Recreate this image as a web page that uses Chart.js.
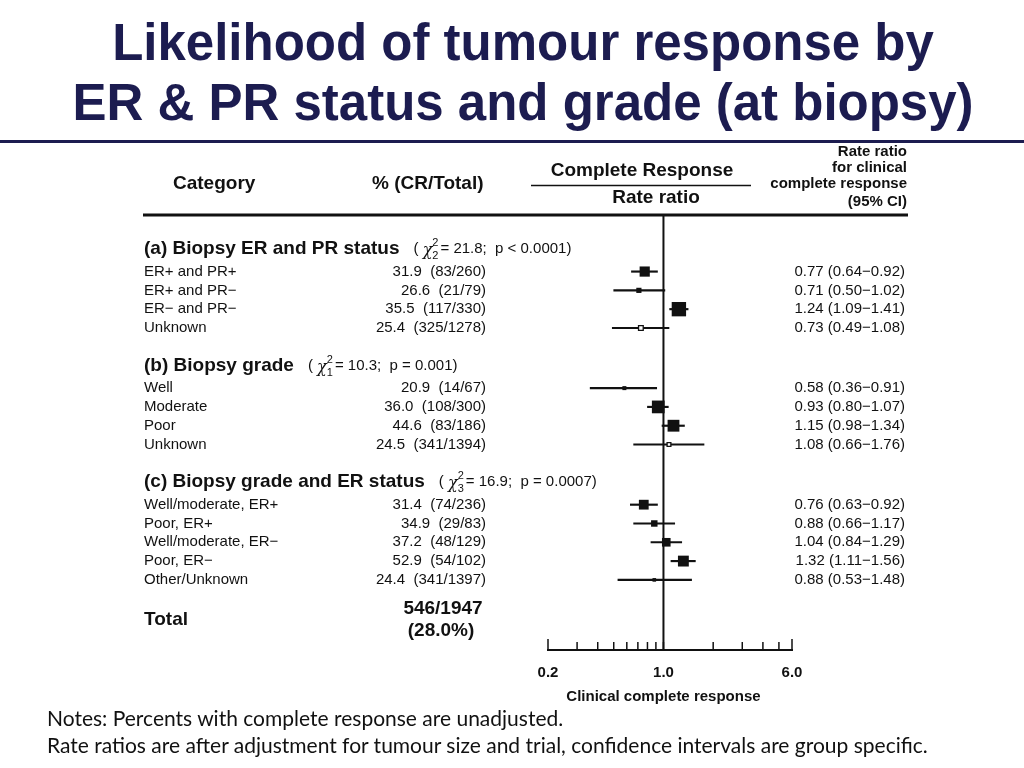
<!DOCTYPE html>
<html lang="en">
<head>
<meta charset="UTF-8">
<title>Likelihood of tumour response by ER & PR status and grade (at biopsy)</title>
<script src="https://cdn.jsdelivr.net/npm/chart.js@4.4.0/dist/chart.umd.min.js"></script>
<style>
  body { margin: 0; background: #fff; }
  #page { position: relative; width: 1024px; height: 768px; overflow: hidden; }
  #forest { position: absolute; left: 0; top: 0; }
  #title {
    position: absolute; left: 11px; top: 13px; width: 1024px;
    text-align: center; color: #1c1c50;
    font: bold 51px/60px "Liberation Sans", Arial, sans-serif;
  }
  #rule { position: absolute; left: 0; top: 140px; width: 1024px; height: 3px; background: #1c1c50; }
  #notes {
    position: absolute; left: 47px; top: 704px; color: #111;
    font: 21px/27px Lato, "Open Sans", sans-serif;
  }
</style>
</head>
<body>
<div id="page">
  <canvas id="forest" width="1024" height="768"></canvas>
  <div id="title">Likelihood of tumour response by<br>ER &amp; PR status and grade (at biopsy)</div>
  <div id="rule"></div>
  <div id="notes">Notes: Percents with complete response are unadjusted.<br>Rate ratios are after adjustment for tumour size and trial, confidence intervals are group specific.</div>
</div>

<script>
// ---- data ----
const groupTitles = ['(a) Biopsy ER and PR status', '(b) Biopsy grade', '(c) Biopsy grade and ER status'];
const chiDf = ['2', '1', '3'];
const chiValues = ['21.8', '10.3', '16.9'];
const pTexts = ['p < 0.0001', 'p = 0.001', 'p = 0.0007'];

const categories = ['ER+ and PR+', 'ER+ and PR\u2212', 'ER\u2212 and PR\u2212', 'Unknown',
  'Well', 'Moderate', 'Poor', 'Unknown',
  'Well/moderate, ER+', 'Poor, ER+', 'Well/moderate, ER\u2212', 'Poor, ER\u2212', 'Other/Unknown'];
const rowGroup = [0, 0, 0, 0, 1, 1, 1, 1, 2, 2, 2, 2, 2];
const pctCR = [31.9, 26.6, 35.5, 25.4, 20.9, 36.0, 44.6, 24.5, 31.4, 34.9, 37.2, 52.9, 24.4];
const crCount = [83, 21, 117, 325, 14, 108, 83, 341, 74, 29, 48, 54, 341];
const totalCount = [260, 79, 330, 1278, 67, 300, 186, 1394, 236, 83, 129, 102, 1397];
const rateRatio = [0.77, 0.71, 1.24, 0.73, 0.58, 0.93, 1.15, 1.08, 0.76, 0.88, 1.04, 1.32, 0.88];
const ciLow = [0.64, 0.50, 1.09, 0.49, 0.36, 0.80, 0.98, 0.66, 0.63, 0.66, 0.84, 1.11, 0.53];
const ciHigh = [0.92, 1.02, 1.41, 1.08, 0.91, 1.07, 1.34, 1.76, 0.92, 1.17, 1.29, 1.56, 1.48];
const overallCR = 546;
const overallN = 1947;
const overallPct = '28.0';

const tickValues = [0.2, 0.3, 0.4, 0.5, 0.6, 0.7, 0.8, 0.9, 1, 2, 3, 4, 5, 6];
const tickLabels = { 0.2: '0.2', 1: '1.0', 6: '6.0' };

// ---- styles ----
const INK = '#111';
const FONT = '"Liberation Sans", Arial, sans-serif';
const openMarker = [false, false, false, true, false, false, false, true, false, false, false, false, false];
const BOX_K = 3.7;      // box side (px) = BOX_K / ln(hi/lo)

// row slots: header, then items one unit apart, gap between groups
const HEAD_GAP = 1.2, GROUP_GAP = 2, TOTAL_EXTRA = 0.1;
const headerSlot = [], rowSlot = [];
let pos = 0;
groupTitles.forEach((t, g) => {
  headerSlot[g] = pos;
  pos += HEAD_GAP;
  categories.forEach((c, i) => {
    if (rowGroup[i] === g) { rowSlot[i] = pos; pos += 1; }
  });
  pos += GROUP_GAP - 1;
});
const totalSlot = pos + TOTAL_EXTRA;

const ciData = categories.map((c, i) => ({ x: [ciLow[i], ciHigh[i]], y: rowSlot[i] }));
const rrData = categories.map((c, i) => ({ x: rateRatio[i], y: rowSlot[i] }));

function drawChi(ctx, x, y, g) {
  ctx.textAlign = 'left';
  ctx.font = '15px ' + FONT;
  ctx.fillText('( ', x, y);
  x += ctx.measureText('( ').width;
  ctx.font = 'italic 16px "DejaVu Serif", serif';
  ctx.fillText('\u03c7', x, y + 2);
  x += ctx.measureText('\u03c7').width;
  ctx.font = '11px ' + FONT;
  ctx.fillText('2', x, y - 6);
  ctx.fillText(chiDf[g], x, y + 7);
  x += ctx.measureText('2').width + 2;
  ctx.font = '15px ' + FONT;
  ctx.fillText('= ' + chiValues[g] + ';  ' + pTexts[g] + ')', x, y);
}

const forestTable = {
  id: 'forestTable',
  beforeDatasetsDraw(chart) {
    const { ctx, chartArea } = chart;
    const xs = chart.scales.x;
    ctx.save();
    ctx.strokeStyle = INK;
    // reference line at 1.0
    ctx.lineWidth = 2;
    const x1 = xs.getPixelForValue(1);
    ctx.beginPath();
    ctx.moveTo(x1, chartArea.top);
    ctx.lineTo(x1, chartArea.bottom);
    ctx.stroke();
    // upward tick marks
    ctx.lineWidth = 1.5;
    tickValues.forEach((v, i) => {
      const px = xs.getPixelForValue(v);
      const len = (i === 0 || i === tickValues.length - 1) ? 11 : 8;
      ctx.beginPath();
      ctx.moveTo(px, chartArea.bottom);
      ctx.lineTo(px, chartArea.bottom - len);
      ctx.stroke();
    });
    ctx.restore();
  },
  afterDraw(chart) {
    const { ctx, chartArea } = chart;
    const xs = chart.scales.x, ys = chart.scales.y;
    ctx.save();
    ctx.fillStyle = INK;
    ctx.strokeStyle = INK;
    ctx.textBaseline = 'middle';

    // column headers
    ctx.font = 'bold 19px ' + FONT;
    ctx.textAlign = 'left';
    ctx.fillText('Category', 173, 184);
    ctx.fillText('% (CR/Total)', 372, 184);
    ctx.textAlign = 'center';
    ctx.fillText('Complete Response', 642, 171);
    ctx.fillText('Rate ratio', 656, 198);
    ctx.lineWidth = 1.5;
    ctx.beginPath();
    ctx.moveTo(531, 185.5);
    ctx.lineTo(751, 185.5);
    ctx.stroke();
    ctx.font = 'bold 15px ' + FONT;
    ctx.textAlign = 'right';
    ctx.fillText('Rate ratio', 907, 152);
    ctx.fillText('for clinical', 907, 168);
    ctx.fillText('complete response', 907, 184);
    ctx.fillText('(95% CI)', 907, 202);

    // heavy rule under header
    ctx.lineWidth = 3;
    ctx.beginPath();
    ctx.moveTo(143, chartArea.top);
    ctx.lineTo(908, chartArea.top);
    ctx.stroke();

    // group headers with chi-square tests
    groupTitles.forEach((t, g) => {
      const y = ys.getPixelForValue(headerSlot[g]);
      ctx.font = 'bold 19px ' + FONT;
      ctx.textAlign = 'left';
      ctx.fillText(t, 144, y);
      drawChi(ctx, 144 + ctx.measureText(t).width + 14, y, g);
    });

    // rows
    categories.forEach((c, i) => {
      const y = ys.getPixelForValue(rowSlot[i]);
      ctx.font = '15px ' + FONT;
      ctx.textAlign = 'left';
      ctx.fillText(c, 144, y);
      ctx.textAlign = 'right';
      ctx.fillText(pctCR[i].toFixed(1) + '  (' + crCount[i] + '/' + totalCount[i] + ')', 486, y);
      ctx.fillText(rateRatio[i].toFixed(2) + ' (' + ciLow[i].toFixed(2) + '\u2212' + ciHigh[i].toFixed(2) + ')', 905, y);
    });

    // total
    const yt = ys.getPixelForValue(totalSlot);
    ctx.font = 'bold 19px ' + FONT;
    ctx.textAlign = 'left';
    ctx.fillText('Total', 144, yt);
    ctx.textAlign = 'center';
    ctx.fillText(overallCR + '/' + overallN, 443, yt - 11);
    ctx.fillText('(' + overallPct + '%)', 441, yt + 11);

    // axis title
    ctx.font = 'bold 15px ' + FONT;
    ctx.fillText('Clinical complete response', xs.getPixelForValue(1), 697);
    ctx.restore();
  }
};

const boxSide = i => BOX_K / Math.log(ciHigh[i] / ciLow[i]);

new Chart(document.getElementById('forest'), {
  type: 'scatter',
  data: {
    datasets: [
      {
        type: 'bar',
        indexAxis: 'y',
        data: ciData,
        backgroundColor: INK,
        borderWidth: 0,
        barThickness: 1.5,
        order: 2
      },
      {
        type: 'scatter',
        data: rrData,
        pointStyle: 'rect',
        pointRadius: c => boxSide(c.dataIndex) / Math.SQRT2,
        pointBackgroundColor: c => openMarker[c.dataIndex] ? '#fff' : INK,
        pointBorderColor: INK,
        pointBorderWidth: c => openMarker[c.dataIndex] ? 1.3 : 0,
        order: 1
      }
    ]
  },
  options: {
    responsive: false,
    animation: false,
    events: [],
    layout: { padding: { left: 548, right: 232, top: 215, bottom: 78 } },
    plugins: { legend: { display: false }, tooltip: { enabled: false } },
    scales: {
      x: {
        type: 'logarithmic',
        min: 0.2,
        max: 6,
        offset: false,
        beginAtZero: false,
        grid: { display: false, drawTicks: false },
        border: { display: true, color: INK, width: 2 },
        afterBuildTicks: s => { s.ticks = tickValues.map(v => ({ value: v })); },
        afterFit: s => { s.height = 40; },
        ticks: {
          autoSkip: false,
          maxRotation: 0,
          padding: 14,
          color: INK,
          font: { family: FONT, size: 15, weight: 'bold' },
          callback: v => tickLabels[v] || ''
        }
      },
      y: {
        type: 'linear',
        reverse: true,
        offset: false,
        min: -34 / 18.8,
        max: 401 / 18.8,
        display: false
      }
    }
  },
  plugins: [forestTable]
});
</script>
</body>
</html>
